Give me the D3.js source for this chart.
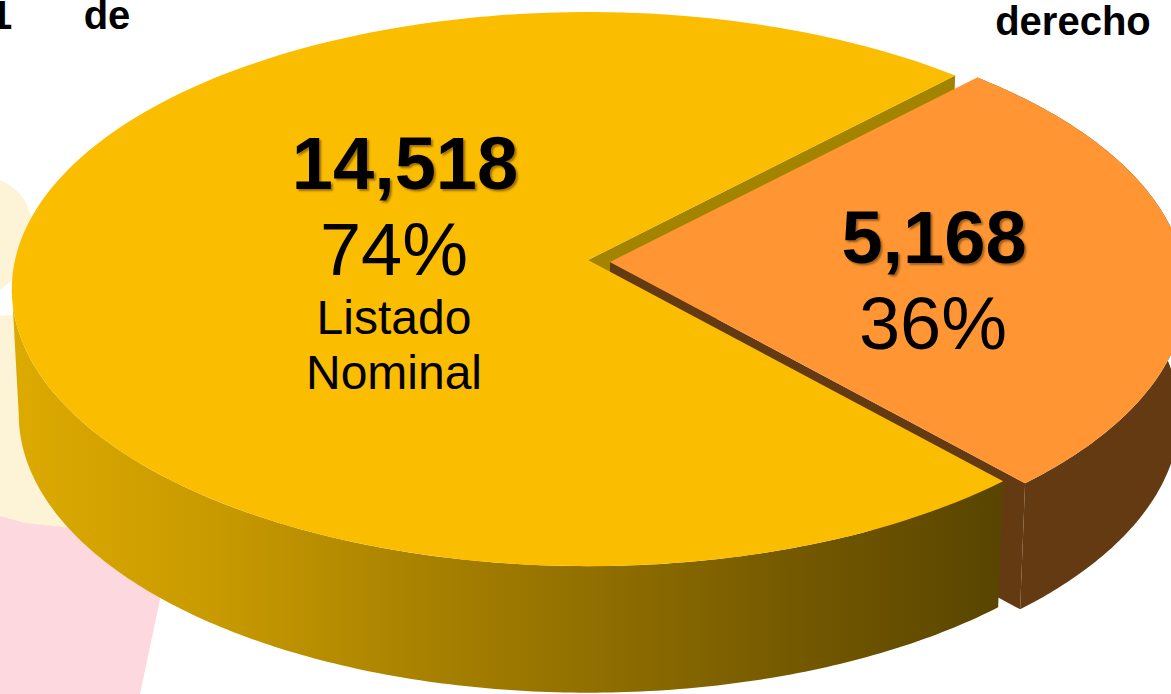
<!DOCTYPE html>
<html>
<head>
<meta charset="utf-8">
<script src="https://cdn.jsdelivr.net/npm/d3@7"></script>
<style>
  html, body { margin: 0; padding: 0; background: #fff; overflow: hidden; }
  svg { display: block; }
  text { font-family: "Liberation Sans", Arial, sans-serif; fill: #000; }
</style>
</head>
<body>
<svg id="chart" width="1171" height="694"></svg>
<script>
const categories = ["Listado Nominal", "Resto"];
const values = [14518, 5168];
const valueLabels = ["14,518", "5,168"];
const percentLabels = ["74%", "36%"];
const headerWords = ["1", "de", "derecho"];

const width = 1171, height = 694;
const svg = d3.select("#chart");
const defs = svg.append("defs");

// background blobs left over behind the pie
svg.append("path").attr("fill", "#fdd9df")
  .attr("d", "M0,515 L30,470 L120,560 L162,590 L140,694 L0,694 Z");
svg.append("path").attr("fill", "#fdf3d6")
  .attr("d", "M0,316 L20,314 L40,480 L72,528 L25,523 L0,516 Z");
svg.append("path").attr("fill", "#fdf3d6")
  .attr("d", "M0,180 C14,186 27,198 29,212 L40,230 L12,280 L0,290 Z");

// pie geometry
const cx = 588, cy = 260;
const rx = 573, ry = 274, persp = 0.105;
const depth = 125, bottomSx = 0.988, bottomSy = 1.005;

const rad = d => d * Math.PI / 180;
const pie = d3.pie().sort(null).startAngle(rad(138.1)).endAngle(rad(138.1 + 360));
const arcs = pie(values);
const [big, small] = arcs;

// top face point for a pie angle, perspective squeezes the far side
function project(a, r, dx, dy, bottom) {
  const u = Math.sin(a) * r, v = -Math.cos(a) * r;
  const w = 1 - persp * v;
  let x = rx * u / w, y = ry * v / w;
  if (bottom) {
    x *= bottomSx;
    y = y * bottomSy + depth;
  }
  return [cx + x + dx, cy + y + dy];
}

const line = d3.line();
const arcPts = (a0, a1, dx, dy, bottom) =>
  d3.range(0, 181).map(i => project(a0 + (a1 - a0) * i / 180, 1, dx, dy, bottom));
const closed = pts => line(pts) + "Z";

const topFace = (d, dx, dy) =>
  closed([project(0, 0, dx, dy), ...arcPts(d.startAngle, d.endAngle, dx, dy)]);

const wall = (a0, a1, dx, dy) =>
  closed([...arcPts(a0, a1, dx, dy), ...arcPts(a0, a1, dx, dy, true).reverse()]);

const cutWall = (a, dx, dy) =>
  closed([project(0, 0, dx, dy), project(a, 1, dx, dy),
          project(a, 1, dx, dy, true), project(0, 0, dx, dy, true)]);

const grad = defs.append("linearGradient").attr("id", "sideYellow")
  .attr("gradientUnits", "userSpaceOnUse")
  .attr("x1", 15).attr("x2", 1000).attr("y1", 0).attr("y2", 0);
[[0, "#dcaa00"], [0.2, "#c99a00"], [0.4, "#aa8300"], [0.6, "#8f6e00"], [0.8, "#735800"], [1, "#594500"]]
  .forEach(([o, c]) => grad.append("stop").attr("offset", o).attr("stop-color", c));

const yellow = "#fbbd00", olive = "#a38400", orange = "#ff9633", brown = "#643a12";
const ox = 22, oy = 2;

// paint order matters, the yellow cut wall goes under the orange top
svg.append("path").attr("d", cutWall(big.endAngle, 0, 0)).attr("fill", olive);
svg.append("path").attr("d", wall(small.startAngle, small.endAngle, ox, oy)).attr("fill", brown);
svg.append("path").attr("d", cutWall(small.endAngle, ox, oy)).attr("fill", brown);
svg.append("path").attr("d", topFace(small, ox, oy)).attr("fill", orange);
// wall stops at the left tangent of the ellipse, the straight closing edge is the silhouette
svg.append("path").attr("d", wall(big.startAngle, rad(264), 0, 0)).attr("fill", "url(#sideYellow)");
svg.append("path").attr("d", topFace(big, 0, 0)).attr("fill", yellow);

// labels
const shadow = "2px 2px 2px rgba(70,40,0,0.5)";
const label = (txt, x, y, size, weight) => svg.append("text")
  .attr("x", x).attr("y", y)
  .attr("text-anchor", "middle")
  .style("font-size", size + "px")
  .style("font-weight", weight)
  .text(txt);

label(valueLabels[0], 405, 189, 74, 700).style("text-shadow", shadow);
label(percentLabels[0], 394, 275, 74, 400);
categories[0].split(" ").forEach((w, i) => label(w, 394, 334 + i * 55, 48, 400));

label(valueLabels[1], 934, 263, 74, 700).style("text-shadow", shadow);
label(percentLabels[1], 933, 349, 74, 400);

label(headerWords[0], 1, 29, 40, 700);
label(headerWords[1], 107, 29, 40, 700);
label(headerWords[2], 1073, 35, 40, 700);
</script>
</body>
</html>
